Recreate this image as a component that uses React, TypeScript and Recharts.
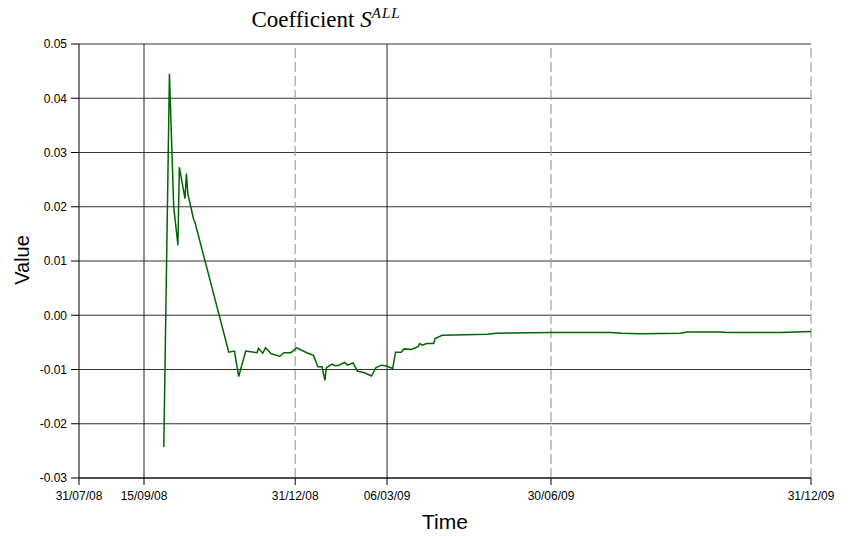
import { CartesianGrid, Line, LineChart, ReferenceLine, XAxis, YAxis } from 'recharts'

const dates = [
  '2008-09-29', '2008-10-03', '2008-10-06', '2008-10-09', '2008-10-10', '2008-10-14',
  '2008-10-15', '2008-10-16', '2008-10-20', '2008-10-21', '2008-11-14', '2008-11-18',
  '2008-11-21', '2008-11-26', '2008-12-04', '2008-12-05', '2008-12-08', '2008-12-10',
  '2008-12-14', '2008-12-18', '2008-12-20', '2008-12-23', '2008-12-28', '2009-01-01',
  '2009-01-09', '2009-01-13', '2009-01-16', '2009-01-19', '2009-01-21', '2009-01-22',
  '2009-01-26', '2009-01-28', '2009-01-31', '2009-02-04', '2009-02-06', '2009-02-10',
  '2009-02-13', '2009-02-18', '2009-02-23', '2009-02-26', '2009-03-02', '2009-03-05',
  '2009-03-10', '2009-03-12', '2009-03-16', '2009-03-18', '2009-03-23', '2009-03-26',
  '2009-03-28', '2009-03-29', '2009-03-31', '2009-04-03', '2009-04-08', '2009-04-09',
  '2009-04-14', '2009-05-16', '2009-05-22', '2009-06-30', '2009-07-21', '2009-08-12',
  '2009-08-19', '2009-09-01', '2009-09-30', '2009-10-04', '2009-10-28', '2009-11-02',
  '2009-12-09', '2009-12-31',
]

const sAll = [
  -0.0243, 0.0445, 0.02, 0.0129, 0.0273, 0.0215,
  0.0261, 0.0224, 0.0178, 0.0172, -0.0068, -0.0066,
  -0.0113, -0.0066, -0.0069, -0.0061, -0.007, -0.006,
  -0.0071, -0.0074, -0.0076, -0.0069, -0.0069, -0.006,
  -0.007, -0.0074, -0.0095, -0.0095, -0.012, -0.0097,
  -0.009, -0.0093, -0.0092, -0.0087, -0.0092, -0.0088,
  -0.0103, -0.0106, -0.0112, -0.0097, -0.0092, -0.0093,
  -0.0098, -0.0068, -0.0068, -0.0062, -0.0063, -0.006,
  -0.0058, -0.0052, -0.0055, -0.0052, -0.0052, -0.0043,
  -0.0037, -0.0035, -0.0033, -0.0032, -0.0032, -0.0032,
  -0.0033, -0.0034, -0.0033, -0.0031, -0.0031, -0.0032,
  -0.0032, -0.003,
]

const tickDates = ['2008-07-31', '2008-09-15', '2008-12-31', '2009-03-06', '2009-06-30', '2009-12-31']
const solidLines = ['2008-09-15', '2009-03-06']
const dashedLines = ['2008-12-31', '2009-06-30', '2009-12-31']
const yTicks = [-0.03, -0.02, -0.01, 0, 0.01, 0.02, 0.03, 0.04, 0.05]

const data = dates.map((d, i) => ({ t: Date.parse(d), v: sAll[i] }))
const xTicks = tickDates.map((d) => Date.parse(d))

const fmtDate = (t: number) => {
  const d = new Date(t)
  const dd = String(d.getUTCDate()).padStart(2, '0')
  const mm = String(d.getUTCMonth() + 1).padStart(2, '0')
  const yy = String(d.getUTCFullYear()).slice(2)
  return `${dd}/${mm}/${yy}`
}

const sans = '"Liberation Sans", Arial, sans-serif'
const serif = '"Liberation Serif", "Times New Roman", serif'

export default function App() {
  return (
    <div style={{ position: 'absolute', left: 0, top: 0, width: 851, height: 537, background: '#fff' }}>
      <LineChart
        width={851}
        height={537}
        data={data}
        margin={{ top: 44, right: 40, left: 19, bottom: 0 }}
      >
        <CartesianGrid vertical={false} stroke="#333" strokeWidth={1} horizontalValues={yTicks} />
        <XAxis
          dataKey="t"
          type="number"
          domain={[xTicks[0], xTicks[xTicks.length - 1]]}
          ticks={xTicks}
          tickFormatter={fmtDate}
          interval={0}
          height={59}
          tickSize={7}
          tickMargin={6}
          stroke="#000"
          tick={{ fill: '#000', fontSize: 12, fontFamily: sans }}
        />
        <YAxis
          type="number"
          domain={[-0.03, 0.05]}
          ticks={yTicks}
          tickFormatter={(v: number) => v.toFixed(2)}
          interval={0}
          width={60}
          tickSize={8}
          tickMargin={4}
          stroke="#000"
          tick={{ fill: '#000', fontSize: 12, fontFamily: sans }}
        />
        {dashedLines.map((d) => (
          <ReferenceLine key={d} x={Date.parse(d)} stroke="#a0a0a0" strokeWidth={1.2} strokeDasharray="10 4" />
        ))}
        {solidLines.map((d) => (
          <ReferenceLine key={d} x={Date.parse(d)} stroke="#222" strokeWidth={1} />
        ))}
        <Line
          type="linear"
          dataKey="v"
          stroke="#006400"
          strokeWidth={1.5}
          dot={false}
          isAnimationActive={false}
        />
      </LineChart>
      <svg
        width={851}
        height={537}
        style={{ position: 'absolute', left: 0, top: 0, pointerEvents: 'none' }}
      >
        <text x={326} y={27} textAnchor="middle" fontFamily={serif} fontSize={23} fill="#000">
          Coefficient <tspan fontStyle="italic">S</tspan>
          <tspan fontStyle="italic" fontSize={15} dy={-9} letterSpacing={1}>ALL</tspan>
        </text>
        <text
          x={29}
          y={260}
          textAnchor="middle"
          transform="rotate(-90 29 260)"
          fontFamily={sans}
          fontSize={20}
          fill="#000"
        >
          Value
        </text>
        <text x={445} y={529} textAnchor="middle" fontFamily={sans} fontSize={21} fill="#000">
          Time
        </text>
      </svg>
    </div>
  )
}
